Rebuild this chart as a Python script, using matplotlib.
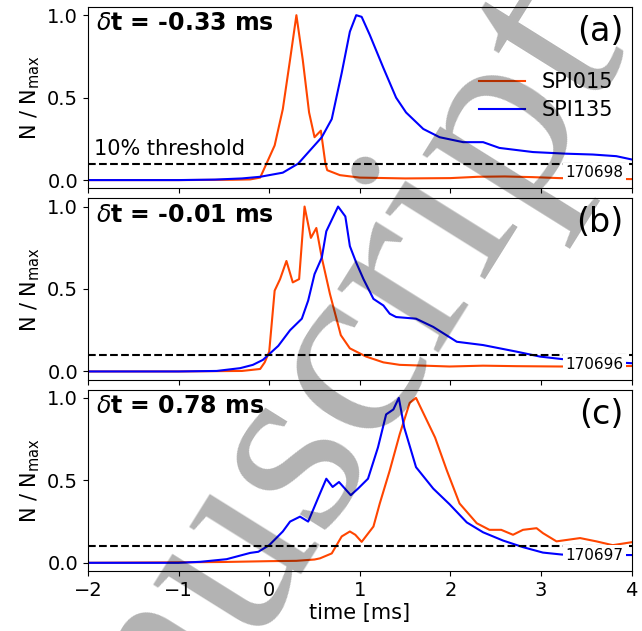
import numpy as np
import matplotlib
matplotlib.use("Agg")
import matplotlib.pyplot as plt

# SPI015 / SPI135 normalised counts vs time for three shots
shots = ["170698", "170696", "170697"]
delays = ["-0.33", "-0.01", "0.78"]
panel_tags = ["(a)", "(b)", "(c)"]

# shot 170698
t_a_015 = [-2.0, -1.0, -0.4, -0.21, -0.1, -0.03, 0.06, 0.15, 0.23, 0.30, 0.37, 0.44, 0.50,
           0.57, 0.62, 0.64, 0.78, 1.0, 1.5, 2.0, 2.3, 2.6, 2.9, 3.2, 3.6, 4.0]
n_a_015 = [0.0, 0.0, 0.002, 0.004, 0.015, 0.10, 0.21, 0.43, 0.73, 1.0, 0.73, 0.41, 0.26,
           0.30, 0.10, 0.06, 0.03, 0.015, 0.01, 0.012, 0.02, 0.022, 0.018, 0.012, 0.008, 0.006]
t_a_135 = [-2.0, -1.0, -0.6, -0.3, -0.1, 0.0, 0.15, 0.32, 0.45, 0.58, 0.69, 0.80, 0.89,
           0.96, 1.02, 1.11, 1.26, 1.40, 1.51, 1.70, 1.88, 2.14, 2.36, 2.54, 2.91, 3.28,
           3.57, 3.83, 4.0]
n_a_135 = [0.0, 0.0, 0.003, 0.01, 0.02, 0.03, 0.045, 0.10, 0.18, 0.26, 0.37, 0.65, 0.90,
           1.0, 0.99, 0.88, 0.68, 0.50, 0.41, 0.31, 0.26, 0.23, 0.23, 0.195, 0.17, 0.16,
           0.155, 0.145, 0.125]

# shot 170696
t_b_015 = [-2.0, -1.0, -0.3, -0.10, -0.05, 0.0, 0.06, 0.12, 0.19, 0.26, 0.33, 0.39, 0.46,
           0.52, 0.58, 0.67, 0.79, 0.89, 1.07, 1.26, 1.44, 1.99, 2.36, 2.73, 3.21, 3.6, 4.0]
n_b_015 = [0.0, 0.0, 0.003, 0.015, 0.055, 0.12, 0.49, 0.56, 0.67, 0.54, 0.56, 1.0, 0.81,
           0.87, 0.69, 0.47, 0.22, 0.14, 0.09, 0.055, 0.04, 0.03, 0.035, 0.032, 0.03, 0.032, 0.033]
t_b_135 = [-2.0, -1.0, -0.58, -0.32, -0.18, -0.07, 0.0, 0.10, 0.23, 0.36, 0.43, 0.50, 0.58,
           0.63, 0.76, 0.84, 0.89, 0.96, 1.04, 1.15, 1.26, 1.33, 1.40, 1.62, 1.81, 2.07,
           2.36, 2.73, 2.99, 3.23, 3.6, 4.0]
n_b_135 = [0.0, 0.0, 0.003, 0.02, 0.04, 0.07, 0.105, 0.155, 0.25, 0.32, 0.43, 0.59, 0.69,
           0.85, 1.0, 0.94, 0.76, 0.66, 0.56, 0.44, 0.40, 0.35, 0.33, 0.32, 0.27, 0.18,
           0.16, 0.12, 0.09, 0.075, 0.062, 0.05]

# shot 170697
t_c_015 = [-2.0, -1.0, -0.5, 0.0, 0.3, 0.5, 0.56, 0.69, 0.80, 0.89, 0.95, 1.02, 1.15, 1.22,
           1.33, 1.44, 1.55, 1.62, 1.83, 1.96, 2.10, 2.29, 2.43, 2.56, 2.69, 2.80, 2.95,
           3.02, 3.17, 3.43, 3.61, 3.79, 4.0]
n_c_015 = [0.0, 0.003, 0.005, 0.01, 0.012, 0.02, 0.027, 0.057, 0.16, 0.19, 0.17, 0.127, 0.22,
           0.36, 0.56, 0.78, 0.97, 1.0, 0.76, 0.56, 0.36, 0.24, 0.20, 0.20, 0.17, 0.20, 0.21,
           0.18, 0.13, 0.15, 0.13, 0.107, 0.125]
t_c_135 = [-2.0, -1.0, -0.76, -0.47, -0.21, -0.12, 0.0, 0.15, 0.23, 0.34, 0.43, 0.56, 0.63,
           0.70, 0.77, 0.90, 0.98, 1.09, 1.20, 1.29, 1.37, 1.43, 1.49, 1.62, 1.81, 1.99,
           2.18, 2.36, 2.58, 2.80, 3.02, 3.23, 3.6, 4.0]
n_c_135 = [0.0, 0.0, 0.006, 0.022, 0.06, 0.067, 0.107, 0.19, 0.25, 0.28, 0.25, 0.42, 0.51,
           0.46, 0.49, 0.41, 0.45, 0.51, 0.70, 0.90, 0.93, 1.0, 0.82, 0.58, 0.45, 0.355,
           0.245, 0.185, 0.135, 0.095, 0.062, 0.05, 0.048, 0.047]

series_015 = [(t_a_015, n_a_015), (t_b_015, n_b_015), (t_c_015, n_c_015)]
series_135 = [(t_a_135, n_a_135), (t_b_135, n_b_135), (t_c_135, n_c_135)]
threshold = 0.1

fig, axes = plt.subplots(3, 1, sharex=True, figsize=(6.42, 6.31), dpi=100)
fig.subplots_adjust(left=0.137, right=0.984, top=0.989, bottom=0.095, hspace=0.055)

for i, ax in enumerate(axes):
    ax.plot(series_015[i][0], series_015[i][1], color="orangered", lw=1.5, label="SPI015")
    ax.plot(series_135[i][0], series_135[i][1], color="blue", lw=1.5, label="SPI135")
    ax.axhline(threshold, color="k", ls="--", lw=1.5)
    ax.set_xlim(-2, 4)
    ax.set_ylim(-0.05, 1.05)
    ax.set_yticks([0.0, 0.5, 1.0])
    ax.tick_params(labelsize=14)
    ax.set_ylabel(r"N / N$_{\rm max}$", fontsize=15)
    ax.text(0.015, 0.975, r"$\delta$t = " + delays[i] + " ms", transform=ax.transAxes,
            fontsize=17, fontweight="bold", ha="left", va="top")
    ax.text(0.985, 0.955, panel_tags[i], transform=ax.transAxes, fontsize=24,
            ha="right", va="top")
    ax.text(0.985, 0.085, shots[i], transform=ax.transAxes, fontsize=11,
            ha="right", va="center", zorder=5,
            bbox=dict(facecolor="white", edgecolor="none", pad=2))

axes[0].text(-1.93, 0.13, "10% threshold", fontsize=15, ha="left", va="bottom")
axes[0].legend(loc="upper left", bbox_to_anchor=(0.685, 0.745), frameon=False, fontsize=15,
               handlelength=2.2, handletextpad=0.8, labelspacing=0.4)
axes[2].set_xlabel("time [ms]", fontsize=15, labelpad=2)

# grey diagonal watermark over the whole figure
fig.text(-0.003, -0.66, "Manuscript", family="Liberation Serif", fontsize=187, rotation=58,
         rotation_mode="anchor", ha="left", va="baseline", color="black", alpha=0.3,
         zorder=10)

fig.savefig("out.png", dpi=100)
